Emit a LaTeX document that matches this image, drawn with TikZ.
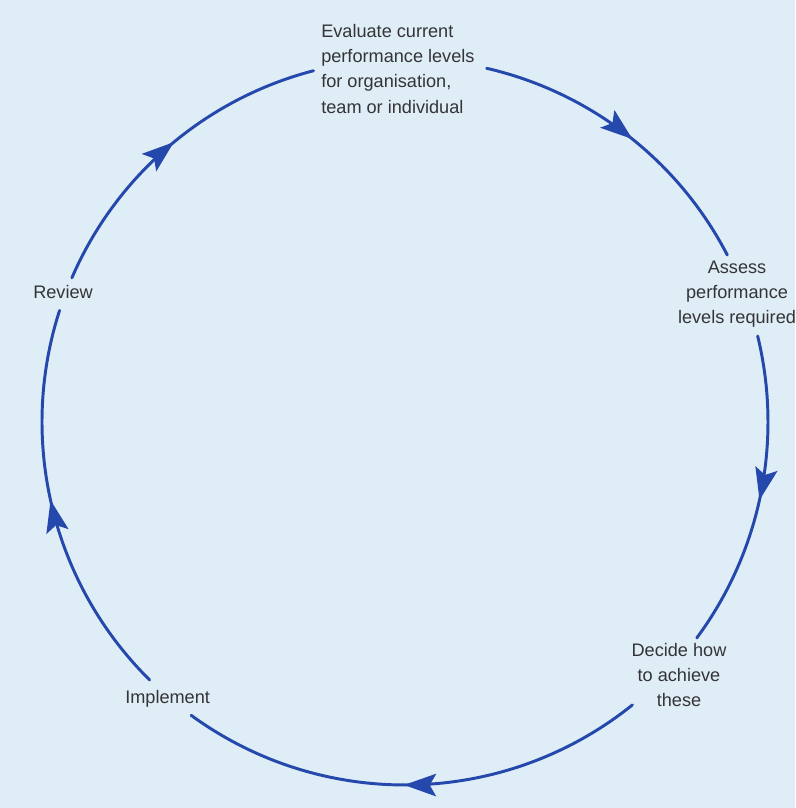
\documentclass[tikz,border=0pt]{standalone}
\usepackage{fontspec}
\setmainfont{Liberation Sans}
\usetikzlibrary{arrows.meta,decorations.markings,calc}

\definecolor{paper}{RGB}{223,237,247}
\definecolor{cycleblue}{RGB}{36,72,172}
\definecolor{labelgrey}{RGB}{52,52,54}

\begin{document}
\begin{tikzpicture}[x=0.025cm,y=0.025cm,
  label/.style={font=\fontsize{12.9pt}{17.8pt}\selectfont, text=labelgrey, inner sep=0pt},
  cyclearc/.style={draw=cycleblue, line width=2.1pt, line cap=round,
    postaction={decorate},
    decoration={markings, mark=at position 0.52 with {\arrow{Stealth[length=8mm,width=5.6mm,inset=1.6mm]}}}}]
  % paper background and fixed frame
  \fill[paper] (0,0) rectangle (795,808);
  \useasboundingbox (0,0) rectangle (795,808);

  % centre and radius of the cycle
  \coordinate (O) at (405,386);
  \def\rad{363}

  % stage labels
  \node[label, align=left, anchor=west] (evaluate) at (321,739)
    {Evaluate current\\performance levels\\for organisation,\\team or individual};
  \node[label, align=center] (assess) at (737,514)
    {Assess\\performance\\levels required};
  \node[label, align=center] (decide) at (679,133)
    {Decide how\\to achieve\\these};
  \node[label, anchor=west] (implement) at (125,109) {Implement};
  \node[label, anchor=west] (review) at (33,516) {Review};

  % arc end points on the circle
  \foreach \n/\a in {rv1/156.6, ev0/104.6, ev1/77, as0/27.4, as1/13.7, de0/-36.5,
                     de1/-51.2, im0/-126.1, im1/225.3, rv0/162.1}
    \coordinate (\n) at ($(O)+(\a:\rad)$);

  % the five arcs of the cycle
  \draw[cyclearc] (rv1) arc[start angle=156.6, end angle=104.6, radius=\rad];
  \draw[cyclearc] (ev1) arc[start angle=77, end angle=27.4, radius=\rad];
  \draw[cyclearc] (as1) arc[start angle=13.7, end angle=-36.5, radius=\rad];
  \draw[cyclearc] (de1) arc[start angle=-51.2, end angle=-126.1, radius=\rad];
  \draw[cyclearc] (im1) arc[start angle=225.3, end angle=162.1, radius=\rad];
\end{tikzpicture}
\end{document}
